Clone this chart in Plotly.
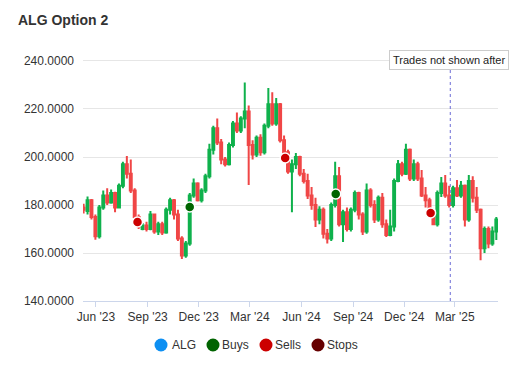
import plotly.graph_objects as go
import pandas as pd

# Weekly candles (mid-week dates)
dates = pd.date_range("2023-05-10", periods=106, freq="7D")

opens = [179, 177.5, 182, 175, 167, 179, 184, 181, 185, 179,
         188, 197, 193, 186, 175, 170, 171.5, 170, 176, 169,
         172, 168.5, 178, 182, 176, 166, 159, 164, 184, 189,
         182, 186, 192, 203, 212, 206, 199, 197, 205, 214,
         211, 216, 219, 205, 201, 208, 202, 213, 222, 214,
         222, 207, 202, 194, 197, 200, 193, 190, 184, 180,
         174, 178, 168, 166, 180, 192, 172, 177, 170, 178,
         185, 176, 169, 186, 180, 174, 183, 172, 167.5, 171,
         190, 197, 193, 203, 191, 197, 191, 184, 182, 177,
         172, 185, 189, 184, 180, 187, 184, 188, 174, 190,
         183, 178, 162, 170, 164, 169]
highs = [180.5, 183.5, 182.5, 176, 180, 186, 187, 186.5, 185.5, 189,
         198, 200.4, 199, 187, 176, 172.5, 173, 177.5, 176.5, 173,
         173, 179, 183, 182.5, 178, 167, 165, 185, 191, 189.5,
         187, 193, 205.5, 213, 216, 207.5, 200, 206, 215, 218.5,
         217, 231, 221.5, 207, 209, 209.5, 214, 228.7, 227, 224.6,
         222.5, 209, 203, 199, 201.7, 200.5, 195, 193, 187.5, 183,
         179.5, 179, 170, 181, 198, 195.8, 178, 179, 179, 186,
         185.5, 177, 189, 187, 182, 184, 185, 174, 178, 191,
         198.7, 198, 205.5, 203.5, 199, 198, 194.6, 187.5, 183, 178,
         186, 191.7, 192.5, 188, 188, 190.4, 190, 188.5, 192.5, 192,
         187.5, 178.5, 171, 171, 171, 175]
lows = [176.5, 176, 174, 165.5, 166, 178, 180, 180.5, 177, 178.5,
        187, 191, 185, 174, 170, 169.5, 169, 169.5, 168, 167.5,
        167.5, 168, 176, 174, 165, 157.5, 158, 163, 183, 181.5,
        181, 185, 191, 201, 205, 197, 196, 196.5, 204, 210,
        210, 212, 188.3, 199, 200, 200.5, 201, 212, 213, 213,
        206, 200.5, 193, 177, 195, 192, 189, 182.5, 178, 170.8,
        172, 166, 164, 165, 179, 171, 164.6, 169, 169, 177,
        174, 167.5, 168, 179, 172.5, 173, 170.5, 166.7, 167, 169,
        189.5, 192, 192.5, 190, 190, 190, 183.3, 179, 176, 171.7,
        171, 183.3, 183, 179, 179, 183.3, 183, 171, 173, 181,
        176.7, 157, 160, 162, 163, 165.4]
closes = [178, 182, 175, 167, 179, 184, 181, 185, 179, 188,
          197, 193, 186, 175, 171, 171.5, 170, 176, 169, 172,
          168.5, 178, 182, 176, 166, 159, 164, 184, 189, 182,
          186, 192, 203, 212, 206, 199, 197, 205, 214, 211,
          216, 219, 205, 201, 208, 202, 213, 222, 214, 222,
          207, 202, 194, 197, 200, 193, 190, 184, 180, 174,
          178, 168, 166, 180, 192, 172, 177, 170, 178, 185,
          176, 169, 186, 180, 174, 183, 172, 167.5, 171, 190,
          197, 193, 203, 191, 197, 191, 184, 182, 177, 172,
          185, 189, 184, 180, 187, 184, 188, 174, 190, 183,
          178, 162, 170, 164, 169, 174]

buy_dates = ["2023-11-15", "2024-08-01"]
buy_values = [179.2, 184.6]
sell_dates = ["2023-08-14", "2024-05-03", "2025-01-17"]
sell_values = [172.9, 199.6, 176.7]

cutoff_date = "2025-02-21"
y_ticks = [140, 160, 180, 200, 220, 240]

legend_names = ["ALG", "Buys", "Sells", "Stops"]
legend_colors = ["#0d8ff2", "#006400", "#cc0000", "#660000"]

GREEN = "#0fb14c"
RED = "#f04646"

# page has an 8px body margin: figure drawn at (8, 8) on screen
W, H = 522, 372
L, R, T, B = 75, 32, 42, 79
PW, PH = W - L - R, H - T - B


def px(sx):  # screen x -> paper x
    return (sx - 8 - L) / PW


def py(sy):  # screen y -> paper y
    return (H - B - (sy - 8)) / PH


fig = go.Figure()
fig.add_trace(go.Candlestick(
    x=dates, open=opens, high=highs, low=lows, close=closes,
    increasing=dict(line=dict(color=GREEN, width=2), fillcolor=GREEN),
    decreasing=dict(line=dict(color=RED, width=2), fillcolor=RED),
    showlegend=False, name="ALG"))

fig.add_trace(go.Scatter(
    x=buy_dates, y=buy_values, mode="markers", showlegend=False, name="Buys",
    marker=dict(color="#006400", size=10, line=dict(color="white", width=1.5))))
fig.add_trace(go.Scatter(
    x=sell_dates, y=sell_values, mode="markers", showlegend=False, name="Sells",
    marker=dict(color="#cc0000", size=10, line=dict(color="white", width=1.5))))

fig.add_shape(type="line", xref="x", yref="paper", x0=cutoff_date, x1=cutoff_date,
              y0=0, y1=py(70), line=dict(color="#6b6bd6", width=1, dash="dot"))

fig.add_annotation(text="Trades not shown after", xref="paper", yref="paper",
                   x=px(389), y=py(60.5), xanchor="left", yanchor="middle", showarrow=False,
                   font=dict(size=11, color="#222"), bgcolor="white",
                   bordercolor="#cccccc", borderwidth=1, borderpad=3)

# legend (drawn as circles + text)
circle_x = [161, 213, 266, 318]
text_x = [170, 220, 273, 325]
leg_y = 345
for nm, col, cx, tx in zip(legend_names, legend_colors, circle_x, text_x):
    fig.add_shape(type="circle", xref="paper", yref="paper",
                  xsizemode="pixel", ysizemode="pixel",
                  xanchor=px(cx), yanchor=py(leg_y),
                  x0=-6.5, x1=6.5, y0=-6.5, y1=6.5,
                  fillcolor=col, line=dict(width=0))
    fig.add_annotation(text=nm, xref="paper", yref="paper", x=px(tx), y=py(leg_y),
                       xanchor="left", yanchor="middle", showarrow=False,
                       font=dict(size=12, color="#333"))

fig.update_layout(
    width=W, height=H,
    margin=dict(l=L, r=R, t=T, b=B),
    paper_bgcolor="white", plot_bgcolor="white",
    font=dict(family="Liberation Sans, Arial, sans-serif", size=12, color="#333"),
    title=dict(text="<b>ALG Option 2</b>", x=10/W, xref="container", xanchor="left",
               y=1-12.5/H, yref="container", yanchor="middle",
               font=dict(size=14, color="#333")),
    showlegend=False,
    xaxis=dict(type="date", range=["2023-05-08 22:00", "2025-05-17"],
               tick0="2023-06-01", dtick="M3", tickformat="%b '%y",
               showgrid=False, showline=True, linecolor="#ccd6eb", linewidth=1,
               ticks="outside", ticklen=5, tickcolor="#ccd6eb",
               rangeslider=dict(visible=False), tickfont=dict(size=12, color="#333")),
    yaxis=dict(range=[140, 244.58], tickvals=y_ticks, tickformat=".4f",
               showgrid=True, gridcolor="#e6e6e6", zeroline=False,
               ticklabelstandoff=8, tickfont=dict(size=12, color="#333")),
)

fig.write_html("out.html")
